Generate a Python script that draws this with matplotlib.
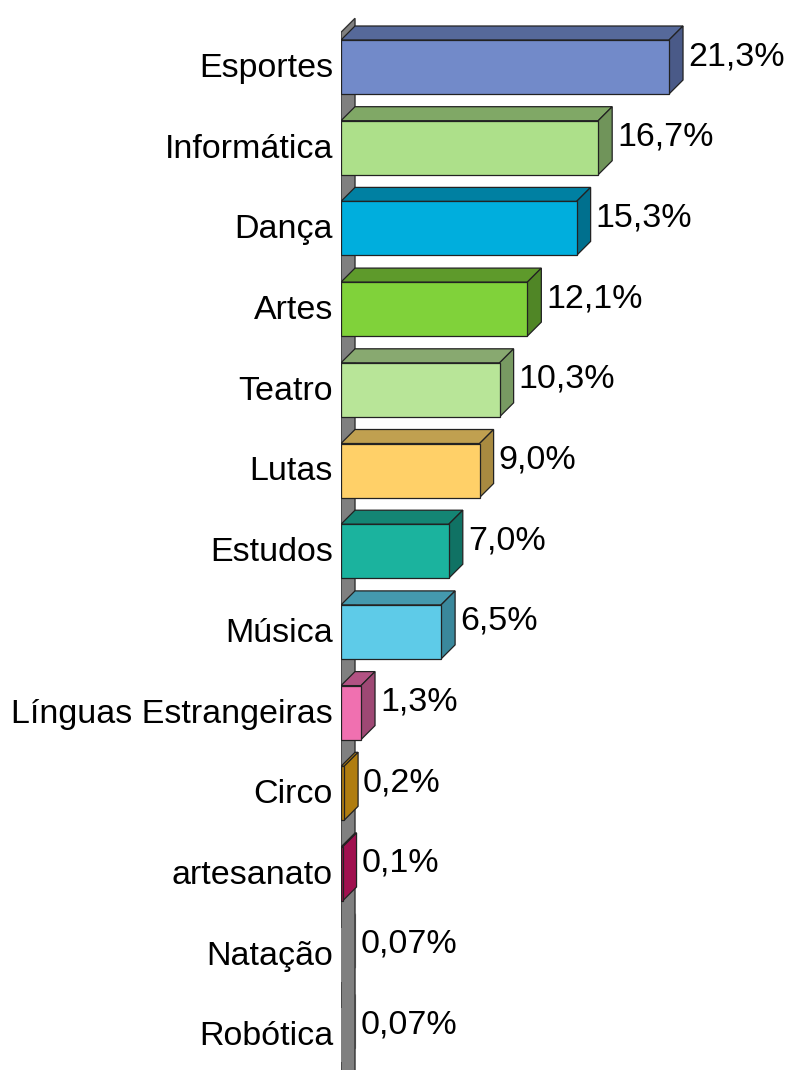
import numpy as np
import matplotlib.pyplot as plt

# Data
categories = ['Esportes', 'Informática', 'Dança', 'Artes', 'Teatro', 'Lutas', 'Estudos',
              'Música', 'Línguas Estrangeiras', 'Circo', 'artesanato', 'Natação', 'Robótica']
values = [21.3, 16.7, 15.3, 12.1, 10.3, 9.0, 7.0, 6.5, 1.3, 0.2, 0.1, 0.07, 0.07]
value_labels = ['21,3%', '16,7%', '15,3%', '12,1%', '10,3%', '9,0%', '7,0%',
                '6,5%', '1,3%', '0,2%', '0,1%', '0,07%', '0,07%']
front_colors = ['#728AC9', '#ADE08A', '#00AEDD', '#80D23A', '#B8E598', '#FFD068', '#1BB39E',
                '#5ECBE8', '#F070B0', '#B07D10', '#A0104F', '#808080', '#808080']
top_colors = ['#56699A', '#80A866', '#0080A2', '#5E9A2B', '#88A970', '#C0A050', '#148574',
              '#4499AE', '#B25283', '#B07D10', '#A0104F', '#808080', '#808080']
side_colors = ['#4A5A88', '#70945A', '#00708E', '#508626', '#789A62', '#A88A40', '#107264',
               '#3A889C', '#9E4874', '#B07D10', '#A0104F', '#808080', '#808080']
edge_colors = ['#222222'] * 11 + ['none', 'none']

W, H = 787, 1070
px_per_pct = 15.4
px_per_cat = 80.7
y0_px = 67
x0_px = 341
depth_px = 14

fig = plt.figure(figsize=(W / 100, H / 100), dpi=100)
ax = fig.add_axes([x0_px / W, 0, 1 - x0_px / W, 1])
ax.set_xlim(0, (W - x0_px) / px_per_pct)
ax.set_ylim((H - y0_px) / px_per_cat, -y0_px / px_per_cat)
ax.axis('off')

dx = depth_px / px_per_pct
dy = depth_px / px_per_cat
h = 27 / px_per_cat

# back wall
ax.fill([0, 0, dx, dx], [20, -0.43, -0.43 - dy, 20], color='#808080', ec='#333333', lw=1, zorder=1)

y = np.arange(len(categories))
ax.barh(y, values, height=2 * h, color=front_colors, edgecolor=edge_colors, lw=0.9, zorder=3)

for i, v in enumerate(values):
    c = y[i]
    z = 2 if values[i] >= 0.1 else 0.5
    ax.fill([0, v, v + dx, dx], [c - h, c - h, c - h - dy, c - h - dy],
            fc=top_colors[i], ec=edge_colors[i], lw=0.9, zorder=z)
    ax.fill([v, v + dx, v + dx, v], [c - h, c - h - dy, c + h - dy, c + h],
            fc=side_colors[i], ec=edge_colors[i], lw=0.9, zorder=z)
    ax.text(v + dx + 5 / px_per_pct, c - 2 / px_per_cat, value_labels[i],
            fontsize=24.5, family='Liberation Sans', va='baseline', ha='left')
    ax.text(-8 / px_per_pct, c + 10 / px_per_cat, categories[i], fontsize=24.5,
            family='Liberation Sans', va='baseline', ha='right', clip_on=False)

fig.savefig('out.png', dpi=100)
